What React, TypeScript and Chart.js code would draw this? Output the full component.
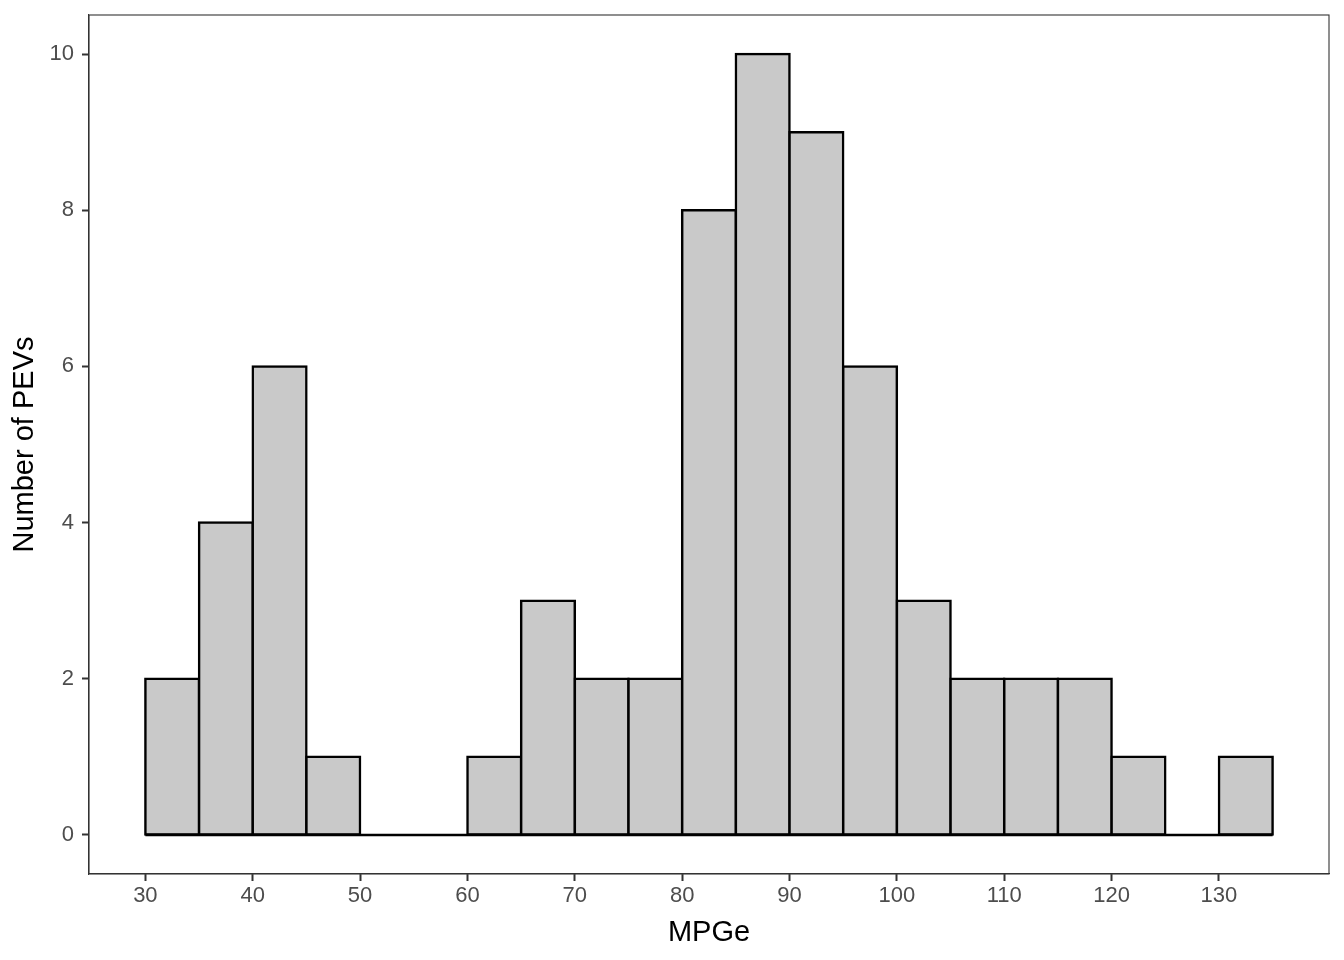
import { useEffect, useRef } from 'react';
import { Chart, registerables } from 'chart.js';

Chart.register(...registerables);

// histogram bins (width 5), left edges and counts
const binStarts = [30, 35, 40, 45, 50, 55, 60, 65, 70, 75, 80, 85, 90, 95, 100, 105, 110, 115, 120, 125, 130];
const binWidth = 5;
const counts = [2, 4, 6, 1, 0, 0, 1, 3, 2, 2, 8, 10, 9, 6, 3, 2, 2, 2, 1, 0, 1];
const xTicks = [30, 40, 50, 60, 70, 80, 90, 100, 110, 120, 130];
const yTicks = [0, 2, 4, 6, 8, 10];

const FONT = 'Liberation Sans, Arial, sans-serif';

const framePlugin = {
	id: 'frame',
	afterDatasetsDraw(chart: Chart) {
		const { ctx, chartArea } = chart;
		ctx.save();
		ctx.strokeStyle = '#333333';
		ctx.lineWidth = 1.1;
		ctx.strokeRect(chartArea.left, chartArea.top, chartArea.right - chartArea.left, chartArea.bottom - chartArea.top);
		ctx.restore();
	}
};

export default function App() {
	const canvasRef = useRef<HTMLCanvasElement | null>(null);
	const chartRef = useRef<Chart | null>(null);

	useEffect(() => {
		document.body.style.margin = '0';
		if (!canvasRef.current) return;
		if (chartRef.current) chartRef.current.destroy();

		const xMin = binStarts[0];
		const xMax = binStarts[binStarts.length - 1] + binWidth;
		const xPad = (xMax - xMin) * 0.05;
		const yMaxData = Math.max(...counts);

		chartRef.current = new Chart(canvasRef.current, {
			type: 'bar',
			data: {
				datasets: [
					{
						type: 'line',
						data: [
							{ x: xMin, y: 0 },
							{ x: xMax, y: 0 }
						],
						borderColor: '#000000',
						borderWidth: 2.5,
						pointRadius: 0,
						order: 0
					} as any,
					{
						type: 'bar',
						data: binStarts.map((s, i) => ({ x: s + binWidth / 2, y: counts[i] })),
						backgroundColor: '#C9C9C9',
						borderColor: '#000000',
						borderWidth: 2.5,
						borderSkipped: false,
						inflateAmount: 1.25,
						barPercentage: 1,
						categoryPercentage: 1,
						grouped: false,
						order: 1
					}
				]
			},
			options: {
				animation: false,
				responsive: false,
				maintainAspectRatio: false,
				layout: { padding: { top: 15, right: 15, left: 0, bottom: 0 } },
				plugins: {
					legend: { display: false },
					tooltip: { enabled: false }
				},
				scales: {
					x: {
						type: 'linear',
						offset: false,
						min: xMin - xPad,
						max: xMax + xPad,
						afterBuildTicks: (scale: any) => {
							scale.ticks = xTicks.map((v) => ({ value: v }));
						},
						afterFit: (scale: any) => {
							scale.height = 86;
							scale.paddingLeft = 0;
							scale.paddingRight = 0;
						},
						grid: {
							display: true,
							offset: false,
							drawOnChartArea: false,
							drawTicks: true,
							tickLength: 7,
							tickWidth: 2,
							tickColor: '#333333'
						},
						border: { display: true, color: '#333333', width: 1.1 },
						ticks: {
							color: '#4D4D4D',
							font: { family: FONT, size: 22 },
							padding: 2,
							maxRotation: 0,
							autoSkip: false
						},
						title: {
							display: true,
							text: 'MPGe',
							color: '#000000',
							font: { family: FONT, size: 29 },
							padding: { top: 0, bottom: 10 }
						}
					},
					y: {
						type: 'linear',
						min: -yMaxData * 0.05,
						max: yMaxData * 1.05,
						afterBuildTicks: (scale: any) => {
							scale.ticks = yTicks.map((v) => ({ value: v }));
						},
						afterFit: (scale: any) => {
							scale.width = 89;
							scale.paddingTop = 0;
							scale.paddingBottom = 0;
						},
						grid: {
							display: true,
							drawOnChartArea: false,
							drawTicks: true,
							tickLength: 7,
							tickWidth: 2,
							tickColor: '#333333'
						},
						border: { display: true, color: '#333333', width: 1.1 },
						ticks: {
							color: '#4D4D4D',
							font: { family: FONT, size: 22 },
							padding: 8
						},
						title: {
							display: true,
							text: 'Number of PEVs',
							color: '#000000',
							font: { family: FONT, size: 29 },
							padding: { top: 8, bottom: 0 }
						}
					}
				}
			},
			plugins: [framePlugin]
		});

		return () => {
			chartRef.current?.destroy();
			chartRef.current = null;
		};
	}, []);

	return (
		<div style={{ width: 1344, height: 960 }}>
			<canvas ref={canvasRef} width={1344} height={960} style={{ width: 1344, height: 960 }} />
		</div>
	);
}
